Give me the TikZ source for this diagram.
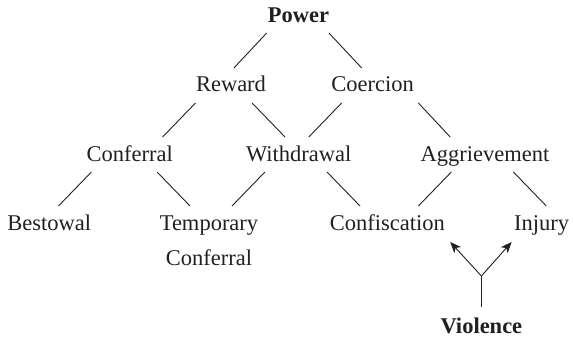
\documentclass[tikz,border=0pt]{standalone}
\usepackage{fontspec}
\setmainfont{Liberation Serif}
\usetikzlibrary{calc,arrows.meta}
\definecolor{ink}{HTML}{231F20}
\begin{document}
\begin{tikzpicture}[x=1pt,y=1pt,
  lbl/.style={anchor=base,inner sep=0pt,text=ink,font=\fontsize{22.5}{35}\selectfont},
  blbl/.style={lbl,font=\fontsize{22.5}{35}\selectfont\bfseries},
  conn/.style={draw=ink,line width=0.9pt},
  arr/.style={conn,-{Stealth[length=11pt,width=9pt,inset=3pt]}}]
\useasboundingbox (0,0) rectangle (573,340);
\node[blbl] (P) at (298.5,317) {Power};
\node[lbl] (R) at (231,248) {Reward};
\node[lbl] (C) at (372.7,248) {Coercion};
\node[lbl] (Cf) at (129.7,178) {Conferral};
\node[lbl] (W) at (298.7,178) {Withdrawal};
\node[lbl] (A) at (485,178) {Aggrievement};
\node[lbl] (B) at (49.3,109) {Bestowal};
\node[lbl,align=center] (T) at (209,74) {Temporary\\Conferral};
\node[lbl] (Cn) at (387.3,109) {Confiscation};
\node[lbl] (I) at (541.7,109) {Injury};
\node[blbl] (V) at (481.4,6) {Violence};
\draw[conn] ($(P.base)+(-31.8,-10)$) -- ($(R.base)+(2.9,24)$);
\draw[conn] ($(P.base)+(30.4,-10)$) -- ($(C.base)+(-11,24)$);
\draw[conn] ($(R.base)+(-35.5,-11)$) -- ($(Cf.base)+(32.9,25)$);
\draw[conn] ($(R.base)+(21.1,-11)$) -- ($(W.base)+(-13.7,25)$);
\draw[conn] ($(C.base)+(-31.1,-11)$) -- ($(W.base)+(10.1,25)$);
\draw[conn] ($(C.base)+(45.7,-11)$) -- ($(A.base)+(-34.8,25)$);
\draw[conn] ($(Cf.base)+(-38.3,-10)$) -- ($(B.base)+(9.2,25)$);
\draw[conn] ($(Cf.base)+(27.4,-10)$) -- ($(T.base)+(-19,60)$);
\draw[conn] ($(W.base)+(-33.8,-10)$) -- ($(T.base)+(23,60)$);
\draw[conn] ($(W.base)+(28.3,-10)$) -- ($(Cn.base)+(-27.3,25)$);
\draw[conn] ($(A.base)+(-33.7,-10)$) -- ($(Cn.base)+(31.1,25)$);
\draw[conn] ($(A.base)+(28.4,-10)$) -- ($(I.base)+(4.6,25)$);
\coordinate (fork) at ($(V.base)+(0,58)$);
\draw[conn] ($(V.base)+(0,27)$) -- (fork);
\draw[arr] (fork) -- ($(Cn.base)+(62.9,-11)$);
\draw[arr] (fork) -- ($(I.base)+(-30.1,-11)$);
\end{tikzpicture}
\end{document}
